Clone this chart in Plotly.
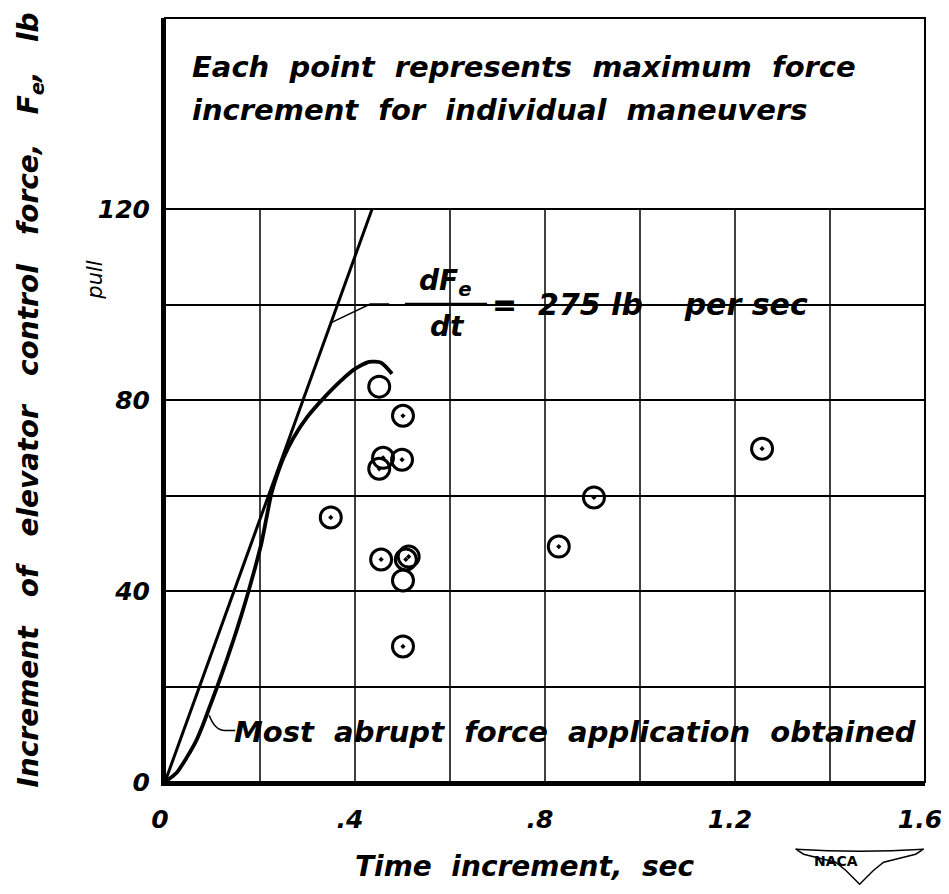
import plotly.graph_objects as go

# measured maneuvers: time increment (sec) vs force increment (lb)
t_dot = [0.459, 0.501, 0.499, 0.451, 0.349, 0.455, 0.507, 0.513, 0.501, 0.903, 0.829, 1.257]
f_dot = [67.9, 76.7, 67.5, 65.6, 55.4, 46.6, 46.6, 47.2, 28.4, 59.6, 49.3, 69.8]
t_open = [0.451, 0.501]
f_open = [82.8, 42.2]

# dFe/dt = 275 lb per sec reference line
t_rate = [0, 0.436]
f_rate = [0, 120]

# most abrupt force application obtained
t_abrupt = [0, 0.025, 0.045, 0.065, 0.08, 0.095, 0.11, 0.128, 0.145, 0.161, 0.176, 0.19,
            0.203, 0.213, 0.223, 0.235, 0.25, 0.27, 0.30, 0.335, 0.37, 0.40, 0.43, 0.455, 0.478]
f_abrupt = [0, 2, 5, 8.5, 12, 16, 20, 25, 30, 35, 40, 45,
            50, 55, 60, 64, 68, 72, 76.5, 80.5, 84, 86.5, 88, 87.8, 85.5]

x_ticks = [0, 0.2, 0.4, 0.6, 0.8, 1.0, 1.2, 1.4, 1.6]
x_labels = ["0", "", ".4", "", ".8", "", "1.2", "", "1.6"]
y_ticks = [0, 20, 40, 60, 80, 100, 120]
y_labels = ["0", "", "40", "", "80", "", "120"]

FONT = "DejaVu Sans"
ink = "black"

def lettering(size, weight="bold"):
    return dict(family=FONT, size=size, color=ink, style="italic", weight=weight)

fig = go.Figure()

fig.add_trace(go.Scatter(x=t_rate, y=f_rate, mode="lines",
                         line=dict(color=ink, width=3), showlegend=False))
fig.add_trace(go.Scatter(x=t_abrupt, y=f_abrupt, mode="lines",
                         line=dict(color=ink, width=3.8, shape="spline", smoothing=0.6),
                         showlegend=False))
fig.add_trace(go.Scatter(x=t_dot, y=f_dot, mode="markers",
                         marker=dict(symbol="circle-open-dot", size=21, color=ink,
                                     line=dict(color=ink, width=3)),
                         showlegend=False))
fig.add_trace(go.Scatter(x=t_open, y=f_open, mode="markers",
                         marker=dict(symbol="circle-open", size=21, color=ink,
                                     line=dict(color=ink, width=3)),
                         showlegend=False))

# vertical grid only runs up to 120; above it is the boxed note
for xv in x_ticks:
    fig.add_shape(type="line", x0=xv, x1=xv, y0=0, y1=120, layer="below",
                  line=dict(color=ink, width=1.5))
fig.add_shape(type="line", xref="x domain", x0=0, x1=1, y0=120, y1=120,
              line=dict(color=ink, width=2))
# outer frame (top and right are thinner than the axes)
fig.add_shape(type="rect", xref="x domain", yref="y domain", x0=0, x1=1, y0=0, y1=1,
              line=dict(color=ink, width=2))

fig.add_annotation(x=0.052, y=149.7, xanchor="left", yanchor="middle",
                   text="Each  point  represents  maximum  force",
                   showarrow=False, font=lettering(29))
fig.add_annotation(x=0.052, y=140.7, xanchor="left", yanchor="middle",
                   text="increment  for  individual  maneuvers",
                   showarrow=False, font=lettering(29))

# dFe/dt label with leader
fig.add_shape(type="path", path="M 0.35,96.2 L 0.432,100.1 L 0.472,100.1",
              line=dict(color=ink, width=1.5))
fig.add_shape(type="line", x0=0.505, x1=0.678, y0=100.1, y1=100.1,
              line=dict(color=ink, width=2.5))
fig.add_annotation(x=0.59, y=104.6, text="dF<sub>e</sub>", showarrow=False,
                   font=lettering(28))
fig.add_annotation(x=0.594, y=95.3, text="dt", showarrow=False, font=lettering(28))
fig.add_annotation(x=0.685, y=100.1, xanchor="left", yanchor="middle",
                   text="=  275 lb    per sec",
                   showarrow=False, font=lettering(30))

# most abrupt label with leader
fig.add_shape(type="path", path="M 0.093,14 Q 0.105,10.8 0.126,10.8 L 0.148,10.8",
              line=dict(color=ink, width=1.5))
fig.add_annotation(x=0.14, y=10.5, xanchor="left", yanchor="middle",
                   text="Most  abrupt  force  application  obtained",
                   showarrow=False, font=lettering(29))

fig.add_annotation(xref="paper", x=-0.092, xanchor="center", y=105, yanchor="middle",
                   text="pull", textangle=-90,
                   showarrow=False, font=lettering(21, "normal"))
fig.add_annotation(xref="paper", yref="paper", x=0.474, y=-0.11, yanchor="middle",
                   text="Time  increment,  sec", showarrow=False, font=lettering(28))

# NACA wing badge
fig.add_shape(type="path", xref="paper", yref="paper", x0=0, y0=0,
              xsizemode="pixel", ysizemode="pixel", xanchor=0.914, yanchor=-0.105,
              path=("M -64,13 Q 0,9 64,13 L 56,8 L 40,4 L 24,0 L 14,-8 L 0,-22 "
                    "L -14,-8 L -24,0 L -40,4 L -56,8 Z"),
              line=dict(color=ink, width=1.5), fillcolor="white")
fig.add_annotation(xref="paper", yref="paper", x=0.914, y=-0.103, yanchor="middle",
                   text="NACA", showarrow=False,
                   font=dict(family=FONT, size=14, color=ink, weight="bold"))

# page body adds an 8 px margin at the top/left, so the figure is shifted by 8 px
fig.update_layout(
    width=941, height=878,
    margin=dict(l=157, r=24, t=10, b=104),
    paper_bgcolor="white", plot_bgcolor="white",
    xaxis=dict(range=[0, 1.6], tickvals=x_ticks, ticktext=x_labels,
               showgrid=False, zeroline=False, automargin=False,
               showline=True, linecolor=ink, linewidth=4,
               ticks="", ticklabelstandoff=12, ticklabeloverflow="allow",
               ticklabelshift=-5, tickfont=lettering(25)),
    yaxis=dict(range=[0, 160], tickvals=y_ticks, ticktext=y_labels,
               showgrid=True, gridcolor=ink, gridwidth=1.5, zeroline=False,
               showline=True, linecolor=ink, linewidth=4, automargin=False,
               ticks="", ticklabelstandoff=6, tickfont=lettering(25),
               title=dict(text="Increment   of   elevator   control   force,   F<sub>e</sub>,   lb",
                          font=lettering(28), standoff=52)),
)

fig.write_html("out.html")
